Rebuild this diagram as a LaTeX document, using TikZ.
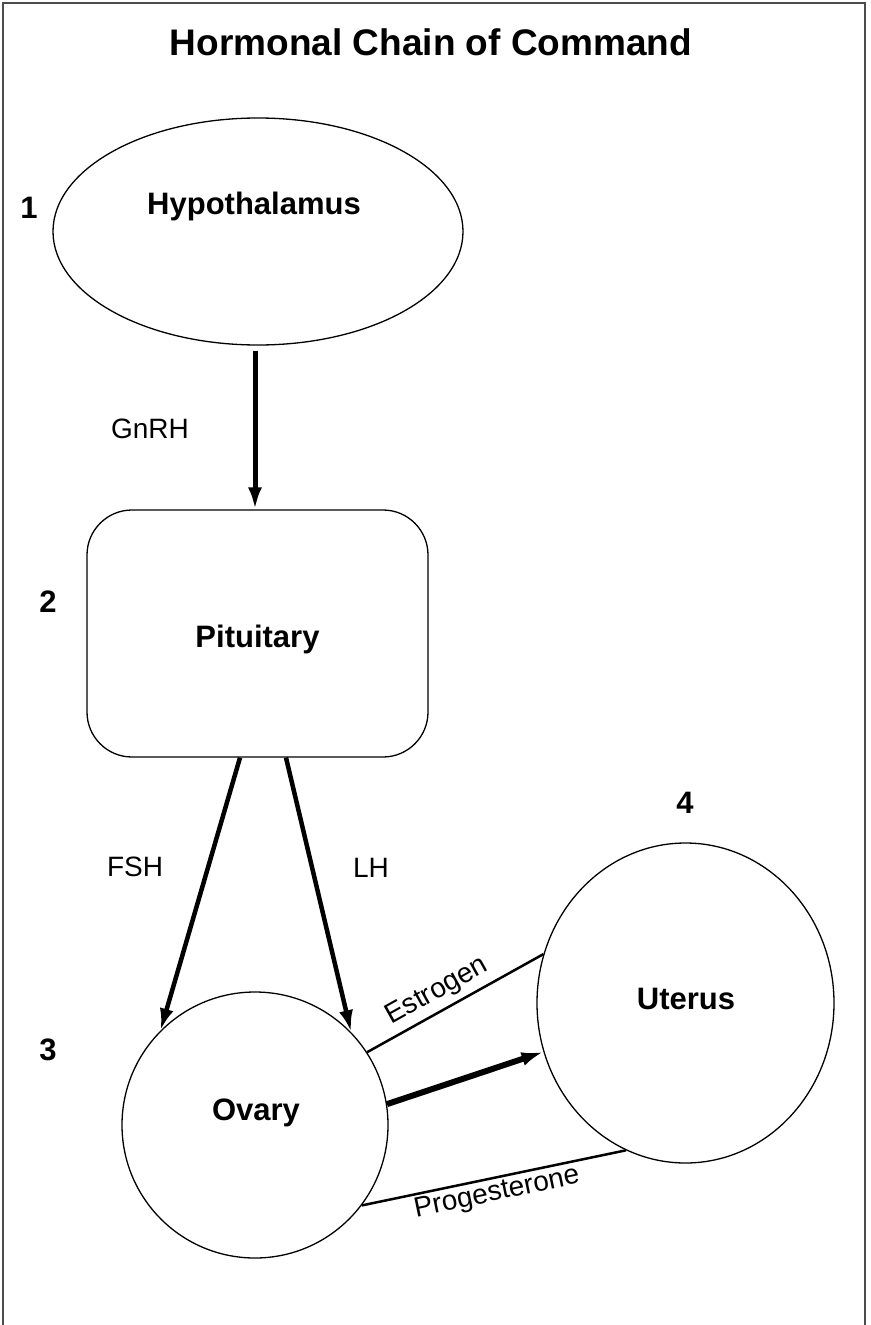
\documentclass[tikz,border=0pt]{standalone}
\usepackage{fontspec}
\setmainfont{Liberation Sans}
\usetikzlibrary{arrows.meta,calc,shapes.geometric}
\begin{document}
\begin{tikzpicture}[x=1pt,y=-1pt,
  organ/.style={draw, line width=1.3pt, inner sep=0pt},
  nodetxt/.style={font=\fontsize{31}{31}\selectfont\bfseries, anchor=base},
  numtxt/.style={font=\fontsize{31}{31}\selectfont\bfseries, anchor=base},
  hormone/.style={font=\fontsize{28}{28}\selectfont},
  bigarrow/.style={line width=5pt, -{Latex[length=22pt,width=14pt]}},
  thinline/.style={line width=2.5pt},
  frameline/.style={draw=black!70, line width=2pt}]
\useasboundingbox (0,0) rectangle (870,1325);
\draw[frameline] (3,1335) -- (3,3) -- (865,3) -- (865,1335);
\node[font=\fontsize{37}{37}\selectfont\bfseries, anchor=base] (title) at (431,55) {Hormonal Chain of Command};

% organs
\node[organ, ellipse, minimum width=410pt, minimum height=227pt] (hyp) at (258,231.5) {};
\node[nodetxt] (hyptxt) at (254,214) {Hypothalamus};
\node[numtxt] (n1) at (29,218) {1};

\node[organ, rectangle, rounded corners=45pt, minimum width=341pt, minimum height=247pt] (pit) at (257.5,633.5) {};
\node[nodetxt] (pittxt) at (257.5,647) {Pituitary};
\node[numtxt] (n2) at (48,612) {2};

\node[organ, circle, minimum size=266pt] (ov) at (255,1125) {};
\node[nodetxt] (ovtxt) at (256,1120) {Ovary};
\node[numtxt] (n3) at (48,1060) {3};

\node[organ, ellipse, minimum width=297pt, minimum height=320pt] (ut) at (685.5,1003) {};
\node[nodetxt] (uttxt) at (686,1009) {Uterus};
\node[numtxt] (n4) at (685,813) {4};

% connectors
\draw[bigarrow] ($(hyp.south)+(-3,5)$) -- ($(pit.north)+(-2.5,0)$);
\node[hormone, anchor=base] (gnrh) at (150,438) {GnRH};

\draw[bigarrow, line width=4.5pt] ($(pit.south)+(-17.5,0)$) -- (ov.135.6);
\draw[bigarrow, line width=4.5pt] ($(pit.south)+(28.5,0)$) -- (ov.44.4);
\node[hormone, anchor=base] (fsh) at (135,876) {FSH};
\node[hormone, anchor=base] (lh) at (371,877) {LH};

\draw[thinline] (ov.33.7) -- node[hormone, sloped, above, pos=0.45, inner sep=5pt] (estr) {Estrogen} (ut.161.5);
\draw[bigarrow, line width=6pt] (ov.9.8) -- (ut.199.5);
\draw[thinline] (ov.-37.7) -- node[hormone, sloped, below, inner sep=2pt] (prog) {Progesterone} (ut.248);
\end{tikzpicture}
\end{document}
